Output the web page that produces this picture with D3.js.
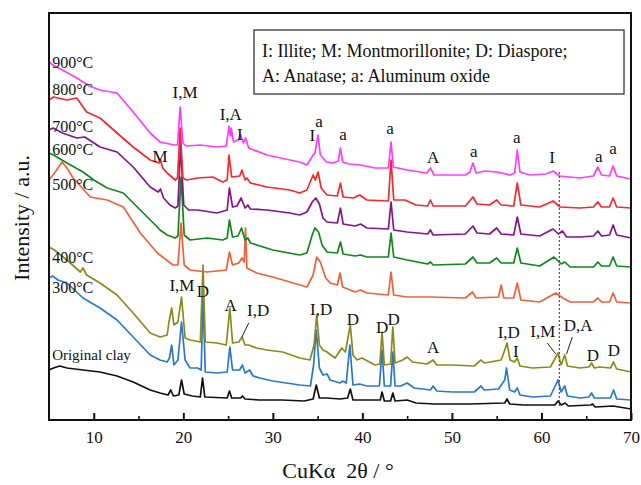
<!DOCTYPE html>
<html>
<head>
<meta charset="utf-8">
<script src="https://cdn.jsdelivr.net/npm/d3@7"></script>
<style>
  body { margin: 0; background: #fff; }
  svg text { font-family: "Liberation Serif", "Times New Roman", serif; fill: #111; }
</style>
</head>
<body>
<svg id="chart" width="641" height="485"></svg>
<script>
// XRD patterns, [2theta, intensity (a.u.)]
const clay = [[5.0,50],[5.5,52],[6.2,54],[7.0,52],[8.8,50],[10.7,48],[12.6,44],[14.4,38],[16.3,30],[17.4,27],[18.3,25],[18.6,30],[18.9,24],[19.5,25],[19.8,40],[20.1,26],[21.0,24],[21.9,23],[22.15,42],[22.4,23],[24.9,22],[25.15,29],[25.4,22],[26.4,22],[26.6,24],[26.9,21],[28.5,20],[31.0,20],[33.5,19],[34.5,21],[34.85,35],[35.2,22],[36.0,22],[37.5,21],[38.35,22],[38.65,31],[38.95,20],[40.0,20],[42.0,20],[42.2,28],[42.45,19],[43.15,19],[43.4,27],[43.65,19],[45.0,20],[46.0,17],[48.0,16],[52.0,16],[55.9,17],[56.15,21],[56.45,16],[58.0,15],[61.5,15],[61.85,19],[62.2,15],[62.65,17],[63.0,14],[65.5,15],[65.7,16],[66.0,13],[68.0,14],[70.0,11]];

const t300 = [[5.0,142],[5.4,144],[6.0,140],[7.0,137],[8.8,122],[10.7,112],[12.6,100],[14.4,83],[16.3,65],[17.4,60],[18.2,58],[18.45,62],[18.7,75],[18.95,55],[19.4,60],[19.8,98],[20.2,60],[20.75,52],[21.6,52],[22.0,50],[22.2,125],[22.45,48],[23.75,47],[24.9,48],[25.2,73],[25.5,50],[26.3,50],[26.6,55],[26.9,47],[27.4,50],[27.8,44],[28.55,42],[30.0,39],[33.0,35],[34.2,34],[34.55,55],[34.85,90],[35.2,52],[35.6,45],[36.05,46],[36.4,40],[37.5,37],[37.8,39],[38.2,37],[38.6,75],[38.95,35],[39.7,36],[40.5,34],[41.9,34],[42.2,70],[42.45,34],[43.15,34],[43.4,68],[43.65,34],[44.3,34],[45.0,37],[45.8,32],[47.6,30],[47.9,34],[48.3,29],[50.0,28],[52.5,28],[53.25,34],[53.6,30],[55.2,31],[55.9,40],[56.1,52],[56.45,30],[57.0,28],[57.3,32],[57.6,25],[59.0,23],[61.0,24],[61.85,40],[62.2,28],[62.6,34],[62.9,24],[64.3,22],[65.3,23],[65.6,27],[65.9,22],[67.7,22],[68.05,30],[68.4,21],[70.0,20]];

const t400 = [[5.0,173],[5.6,170],[7.0,160],[8.5,148],[8.8,152],[9.2,145],[10.7,137],[12.6,125],[14.4,107],[16.3,87],[17.4,83],[18.2,85],[18.4,98],[18.7,112],[18.95,95],[19.4,98],[19.8,123],[20.2,82],[20.75,80],[21.9,78],[22.2,155],[22.45,78],[23.75,77],[24.8,75],[25.2,112],[25.5,77],[26.2,78],[26.55,83],[26.9,75],[27.3,75],[28.2,72],[29.35,70],[31.1,68],[33.0,62],[34.15,60],[34.6,75],[34.9,105],[35.2,75],[35.6,70],[36.05,68],[36.95,62],[37.7,72],[38.1,68],[38.65,95],[38.95,65],[39.4,60],[39.95,62],[41.4,55],[41.95,56],[42.2,88],[42.45,55],[43.15,56],[43.4,93],[43.65,57],[44.5,60],[45.0,63],[45.6,58],[47.2,56],[47.9,60],[48.3,55],[50.0,55],[52.5,54],[53.25,60],[53.6,57],[55.5,60],[55.9,70],[56.15,77],[56.5,60],[57.0,58],[57.3,62],[57.6,54],[59.0,52],[61.0,53],[61.85,67],[62.2,55],[62.6,65],[62.9,54],[64.3,52],[65.3,53],[65.6,57],[65.9,52],[66.5,53],[67.7,52],[68.05,58],[68.4,51],[70.0,48]];

const t500 = [[5.0,240],[5.7,248],[6.45,258],[7.0,252],[7.7,242],[9.6,223],[11.5,220],[13.3,213],[15.2,187],[17.1,167],[18.85,155],[19.4,155],[19.75,197],[20.1,155],[20.75,150],[22.65,148],[24.8,150],[25.15,168],[25.5,155],[26.2,157],[26.55,162],[26.8,158],[26.95,192],[27.1,152],[28.2,147],[30.0,143],[33.8,133],[34.5,145],[34.9,163],[35.3,158],[35.9,142],[36.4,137],[37.2,135],[37.5,147],[37.8,133],[39.2,128],[39.8,130],[40.5,127],[42.9,125],[43.2,148],[43.5,125],[45.0,123],[47.6,123],[51.5,122],[52.3,128],[52.7,122],[55.2,123],[55.5,135],[55.8,122],[56.9,122],[57.3,137],[57.7,120],[59.8,118],[61.6,127],[62.4,122],[63.2,118],[65.8,118],[66.3,122],[66.7,118],[67.6,118],[68.0,127],[68.4,118],[70.0,117]];

const t600 = [[5.0,267],[5.5,265],[7.0,257],[8.8,248],[10.0,240],[11.5,232],[13.3,227],[15.2,210],[17.1,193],[17.4,190],[18.2,185],[19.1,182],[19.4,184],[19.75,243],[20.1,185],[20.75,180],[22.65,182],[24.4,180],[24.9,182],[25.15,200],[25.5,183],[26.1,184],[26.5,192],[26.9,180],[27.2,182],[27.5,177],[30.0,170],[33.0,165],[33.8,167],[34.4,185],[34.7,192],[35.1,188],[35.5,175],[36.05,168],[37.2,167],[37.55,178],[37.85,166],[39.2,164],[39.8,165],[40.5,163],[42.9,163],[43.2,187],[43.5,163],[45.0,160],[47.3,156],[47.6,158],[47.9,155],[51.5,156],[52.35,163],[52.8,157],[54.2,157],[55.0,162],[55.5,157],[56.9,157],[57.3,172],[57.7,157],[59.8,154],[61.4,163],[62.2,156],[62.6,158],[63.2,153],[65.8,153],[66.3,158],[66.7,154],[67.6,154],[68.0,163],[68.4,154],[70.0,153]];

const t700 = [[5.0,290],[5.45,292],[6.5,287],[8.1,282],[9.0,283],[10.7,273],[12.6,268],[14.4,253],[16.3,233],[17.2,228],[17.45,231],[17.8,222],[18.5,215],[19.1,212],[19.4,214],[19.7,275],[20.05,215],[20.6,210],[21.6,210],[23.75,207],[24.9,210],[25.15,232],[25.5,213],[26.0,214],[26.45,222],[26.9,212],[27.2,215],[27.5,211],[29.35,210],[31.9,207],[33.0,205],[33.8,208],[34.4,218],[34.8,222],[35.2,216],[35.6,202],[36.05,198],[37.2,197],[37.55,212],[37.85,196],[39.2,194],[39.8,196],[40.5,192],[42.9,191],[43.2,218],[43.5,190],[45.0,188],[47.3,186],[47.6,190],[47.9,185],[51.5,186],[52.35,194],[52.8,187],[54.2,186],[55.0,192],[55.5,186],[56.9,185],[57.3,203],[57.7,186],[59.8,184],[61.3,191],[61.9,186],[62.35,189],[62.8,183],[64.3,183],[65.8,184],[66.3,189],[66.7,184],[67.6,185],[68.0,195],[68.4,185],[70.0,182]];

const t800 = [[5.0,320],[5.5,323],[7.0,320],[8.1,322],[9.2,308],[10.7,302],[12.6,287],[14.4,273],[16.3,260],[17.3,257],[17.45,260],[17.7,252],[18.2,247],[19.1,240],[19.35,242],[19.65,292],[19.95,242],[20.4,240],[21.6,242],[23.3,243],[24.4,238],[24.9,240],[25.1,265],[25.4,243],[26.3,244],[26.55,250],[26.9,240],[27.1,242],[27.5,237],[29.35,233],[31.9,230],[33.0,227],[33.8,230],[34.5,245],[34.75,240],[35.05,248],[35.4,232],[36.05,225],[37.2,224],[37.55,237],[37.85,223],[39.0,222],[39.7,225],[40.5,220],[42.9,219],[43.2,260],[43.5,220],[44.75,220],[46.0,215],[47.3,214],[47.6,220],[47.9,214],[51.5,214],[52.35,223],[52.8,216],[54.2,215],[55.0,220],[55.5,215],[56.9,214],[57.3,237],[57.7,215],[59.8,213],[61.3,219],[62.1,213],[64.3,212],[65.8,213],[66.3,218],[66.7,213],[67.6,213],[68.0,222],[68.4,213],[70.0,212]];

const t900 = [[5.0,358],[5.45,355],[6.5,350],[8.1,342],[9.5,334],[10.7,330],[12.6,327],[14.4,308],[16.3,287],[17.4,278],[19.0,275],[19.35,275],[19.65,313],[19.95,277],[20.3,274],[21.9,275],[23.75,273],[24.8,274],[25.1,294],[25.25,284],[25.35,292],[25.6,278],[26.1,280],[26.4,285],[26.7,277],[26.95,282],[27.3,272],[29.35,265],[31.9,260],[33.0,258],[33.8,255],[34.5,265],[34.7,267],[35.05,285],[35.3,265],[36.0,258],[36.7,257],[37.3,259],[37.55,272],[37.8,258],[38.5,256],[39.8,255],[41.4,252],[42.9,252],[43.2,278],[43.45,253],[45.0,250],[47.2,247],[47.6,252],[48.0,245],[51.5,245],[52.0,248],[52.35,257],[52.7,247],[53.7,249],[55.0,248],[56.5,245],[57.0,247],[57.3,270],[57.6,248],[58.7,245],[60.5,246],[61.3,249],[62.0,244],[64.3,242],[65.8,244],[66.3,253],[66.7,245],[67.6,244],[68.0,254],[68.4,244],[70.0,241]];

// drawn bottom first so upper patterns sit on top
const seriesNames = ["Original clay", "300°C", "400°C", "500°C", "600°C", "700°C", "800°C", "900°C"];
const seriesData = [clay, t300, t400, t500, t600, t700, t800, t900];
const seriesColors = ["#111111", "#2a78cc", "#8a8a1c", "#f0603c", "#12861a", "#85148a", "#f5282e", "#ff3cff"];
const nameLabelY = [60, 127, 157, 230, 265, 288, 325, 352];

const xTicks = [10, 20, 30, 40, 50, 60, 70];
const xMinorTicks = [15, 25, 35, 45, 55, 65];

// peak markers: [text, 2theta, intensity]
const peakLabels = [
  ["I,M", 20.2, 322], ["I,A", 25.3, 300], ["I", 26.3, 280], ["M", 17.4, 258],
  ["I", 34.4, 279], ["a", 35.15, 293], ["a", 37.85, 280], ["a", 43.1, 286],
  ["A", 47.9, 257], ["a", 52.45, 263], ["a", 57.25, 277], ["I", 61.2, 257],
  ["a", 66.4, 258], ["a", 68.0, 266],
  ["I,M", 19.85, 129], ["D", 22.2, 123], ["A", 25.3, 109], ["I,D", 28.35, 104],
  ["I,D", 35.4, 105], ["D", 38.95, 95], ["D", 42.2, 87], ["D", 43.5, 95],
  ["A", 47.9, 67], ["I,D", 56.35, 82], ["I", 57.15, 63], ["I,M", 60.15, 83],
  ["D,A", 64.1, 89], ["D", 65.75, 59], ["D", 68.1, 64]
];
// leader lines: [x1, y1, x2, y2]
const leaders = [[27.3, 97, 26.55, 83], [60.65, 77, 61.6, 66], [63.45, 83, 62.8, 66]];
const refLine = { theta: 62.0, top: 248, bottom: 12 };

const legendLines = ["I: Illite; M: Montmorillonite; D: Diaspore;", "A: Anatase; a: Aluminum oxide"];

const svg = d3.select("#chart");
const plotLeft = 49, plotRight = 631, plotTop = 13, plotBottom = 420;

const x = d3.scaleLinear().domain([5, 70]).range([plotLeft, plotRight]);
const y = d3.scaleLinear().domain([0, 407]).range([plotBottom, plotTop]);

const line = d3.line().x(d => x(d[0])).y(d => y(d[1]));

svg.append("g")
  .selectAll("path")
  .data(seriesData)
  .enter().append("path")
  .attr("d", line)
  .attr("fill", "none")
  .attr("stroke", (d, i) => seriesColors[i])
  .attr("stroke-width", 1.7)
  .attr("stroke-linejoin", "round");

// dotted reference at the I,M reflection
svg.append("line")
  .attr("x1", x(refLine.theta)).attr("x2", x(refLine.theta))
  .attr("y1", y(refLine.top)).attr("y2", y(refLine.bottom))
  .attr("stroke", "#555").attr("stroke-width", 1.2)
  .attr("stroke-dasharray", "2,2");

svg.append("g")
  .selectAll("line")
  .data(leaders)
  .enter().append("line")
  .attr("x1", d => x(d[0])).attr("y1", d => y(d[1]))
  .attr("x2", d => x(d[2])).attr("y2", d => y(d[3]))
  .attr("stroke", "#222").attr("stroke-width", 1);

svg.append("g")
  .selectAll("text")
  .data(seriesNames)
  .enter().append("text")
  .attr("x", x(5.35))
  .attr("y", (d, i) => y(nameLabelY[i]))
  .attr("font-size", (d, i) => i === 0 ? 15 : 16)
  .text(d => d);

svg.append("g")
  .selectAll("text")
  .data(peakLabels)
  .enter().append("text")
  .attr("x", d => x(d[1]))
  .attr("y", d => y(d[2]))
  .attr("text-anchor", "middle")
  .attr("font-size", 17)
  .text(d => d[0]);

// axes
const xAxis = d3.axisBottom(x).tickValues(xTicks).tickSize(-7).tickPadding(11).tickFormat(d3.format("d"));
const gx = svg.append("g").attr("transform", `translate(0,${plotBottom})`).call(xAxis);
gx.select(".domain").remove();
gx.selectAll(".tick line").attr("stroke", "#111").attr("stroke-width", 2);
gx.selectAll(".tick text").attr("font-size", 17).attr("fill", "#111")
  .style("font-family", "'Liberation Serif', 'Times New Roman', serif");

const gm = svg.append("g").attr("transform", `translate(0,${plotBottom})`)
  .call(d3.axisBottom(x).tickValues(xMinorTicks).tickSize(-4).tickFormat(""));
gm.select(".domain").remove();
gm.selectAll(".tick line").attr("stroke", "#111").attr("stroke-width", 1.6);

svg.append("rect")
  .attr("x", plotLeft).attr("y", plotTop)
  .attr("width", plotRight - plotLeft).attr("height", plotBottom - plotTop)
  .attr("fill", "none").attr("stroke", "#111").attr("stroke-width", 2);

// legend box
svg.append("rect")
  .attr("x", 254).attr("y", 30).attr("width", 370).attr("height", 64)
  .attr("fill", "#fff").attr("stroke", "#222").attr("stroke-width", 1.2);
svg.append("g")
  .selectAll("text")
  .data(legendLines)
  .enter().append("text")
  .attr("x", 262)
  .attr("y", (d, i) => 57 + i * 25)
  .attr("font-size", 18)
  .text(d => d);

svg.append("text")
  .attr("x", 338).attr("y", 478)
  .attr("text-anchor", "middle")
  .attr("font-size", 22)
  .style("white-space", "pre")
  .text("CuKα  2θ / °");

svg.append("text")
  .attr("transform", "translate(29,218) rotate(-90)")
  .attr("text-anchor", "middle")
  .attr("font-size", 22)
  .text("Intensity / a.u.");
</script>
</body>
</html>
